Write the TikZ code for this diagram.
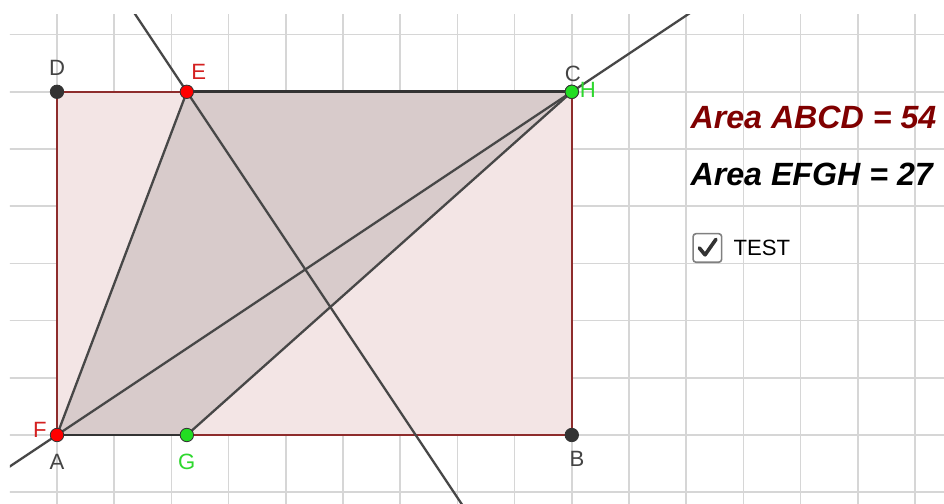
\documentclass[tikz,border=0pt]{standalone}
\usepackage{fontspec}
\setmainfont{Liberation Sans}
\usepackage{xcolor}
\usetikzlibrary{calc,positioning}
\definecolor{gridgray}{HTML}{D6D6D6}
\definecolor{linegray}{HTML}{474747}
\definecolor{edgedark}{HTML}{333333}
\definecolor{rectred}{HTML}{8E2C2C}
\definecolor{rectfill}{HTML}{F3E5E5}
\definecolor{trapfill}{HTML}{D8CBCB}
\definecolor{ptred}{HTML}{FF0000}
\definecolor{lblred}{HTML}{D42020}
\definecolor{ptgreen}{HTML}{22DD22}
\definecolor{lblgreen}{HTML}{2ED82E}
\definecolor{txtred}{HTML}{800000}
\definecolor{lblgray}{HTML}{444444}
\definecolor{boxgray}{HTML}{808080}
\tikzset{
  gridline/.style={draw=gridgray, line width=0.8pt},
  conline/.style={draw=linegray, line width=1.15pt},
  ptdot/.style={circle, inner sep=0pt, minimum size=0.235cm, draw=edgedark, line width=0.4pt},
  ptblack/.style={ptdot, fill=edgedark},
  ptredd/.style={ptdot, fill=ptred},
  ptgreend/.style={ptdot, fill=ptgreen},
  ptlabel/.style={inner sep=0pt, font=\fontsize{11}{13}\selectfont},
  areatext/.style={anchor=west, inner sep=0pt, font=\fontsize{16}{19}\selectfont\bfseries\itshape}
}
\begin{document}
\begin{tikzpicture}
\useasboundingbox (-0.9965,-1.206) rectangle (15.507,7.605);
\fill[white] (-0.9965,-1.206) rectangle (15.507,7.605);
% points of the rectangle and trapezoid
\coordinate (A) at (0,0);
\coordinate (B) at (9,0);
\coordinate (C) at (9,6);
\coordinate (D) at (0,6);
\coordinate (E) at (2.27,6);
\coordinate (G) at (2.27,0);
\coordinate (acL) at ($(A)!-0.3!(C)$);
\coordinate (acR) at ($(A)!1.5!(C)$);
\coordinate (perT) at ($(E)+(-2,3)$);
\coordinate (perB) at ($(E)+(6,-9)$);
\begin{scope}
  \clip (-0.822,-1.206) rectangle (15.507,7.343);
  \draw[gridline] (-1,-2) grid (16,8);
  % shaded regions
  \fill[rectfill] (A) rectangle (C);
  \fill[trapfill] (A) -- (E) -- (C) -- (G) -- cycle;
  \draw[rectred, line width=1.1pt] (A) rectangle (C);
  \draw[linegray, line width=1.15pt] (A) -- (E);
  \draw[linegray, line width=1.15pt] (G) -- (C);
  \draw[edgedark, line width=1.3pt] (E) -- (C);
  \draw[edgedark, line width=1.3pt] (A) -- (G);
  % lines
  \draw[conline] (acL) -- (acR);
  \draw[conline] (perT) -- (perB);
\end{scope}
% dots
\node[ptblack] (pD) at (D) {};
\node[ptblack] (pB) at (B) {};
\node[ptblack] (pC) at (C) {};
\node[ptgreend] (pH) at (C) {};
\node[ptredd] (pE) at (E) {};
\node[ptredd] (pF) at (A) {};
\node[ptgreend] (pG) at (G) {};
% labels
\node[ptlabel, text=lblgray] (lD) at (0,6.42) {D};
\node[ptlabel, text=lblred] (lE) at (2.48,6.35) {E};
\node[ptlabel, text=lblgray] (lC) at (9.02,6.31) {C};
\node[ptlabel, text=lblgreen] (lH) at (9.28,6.03) {H};
\node[ptlabel, text=lblred] (lF) at (-0.30,0.09) {F};
\node[ptlabel, text=lblgray] (lA) at (0,-0.47) {A};
\node[ptlabel, text=lblgreen] (lG) at (2.27,-0.47) {G};
\node[ptlabel, text=lblgray] (lB) at (9.09,-0.42) {B};
% area texts
\node[areatext, text=txtred] (areaR) at (11.07,5.56) {Area ABCD = 54};
\node[areatext, text=black] (areaT) at (11.07,4.56) {Area EFGH = 27};
% checkbox
\node[draw=boxgray, fill=white, line width=0.8pt, rounded corners=1.5pt, minimum size=0.5cm, inner sep=0pt] (chk) at (11.37,3.27) {};
\draw[edgedark, line width=1.8pt, line cap=round, line join=round]
  ($(chk.center)+(-0.14,0.0)$) -- ($(chk.center)+(-0.04,-0.12)$) -- ($(chk.center)+(0.15,0.15)$);
\node[ptlabel, anchor=west, right=0.19cm of chk] (test) {TEST};
\end{tikzpicture}
\end{document}
